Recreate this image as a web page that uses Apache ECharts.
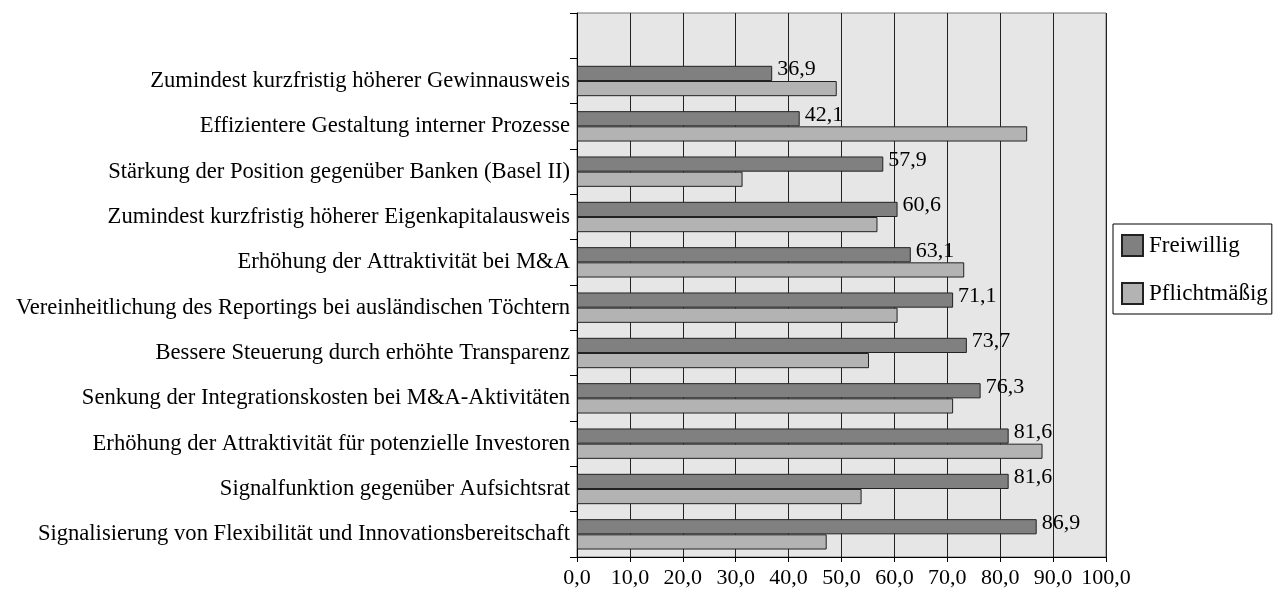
<!DOCTYPE html>
<html>
<head>
<meta charset="utf-8">
<script src="https://cdn.jsdelivr.net/npm/echarts@6/dist/echarts.min.js"></script>
<style>html,body{margin:0;padding:0;background:#fff}#c{width:1273px;height:592px}</style>
</head>
<body>
<div id="c"></div>
<script>
var categories = [
  '',
  'Zumindest kurzfristig höherer Gewinnausweis',
  'Effizientere Gestaltung interner Prozesse',
  'Stärkung der Position gegenüber Banken (Basel II)',
  'Zumindest kurzfristig höherer Eigenkapitalausweis',
  'Erhöhung der Attraktivität bei M&A',
  'Vereinheitlichung des Reportings bei ausländischen Töchtern',
  'Bessere Steuerung durch erhöhte Transparenz',
  'Senkung der Integrationskosten bei M&A-Aktivitäten',
  'Erhöhung der Attraktivität für potenzielle Investoren',
  'Signalfunktion gegenüber Aufsichtsrat',
  'Signalisierung von Flexibilität und Innovationsbereitschaft'
];
var freiwillig = [null, 36.9, 42.1, 57.9, 60.6, 63.1, 71.1, 73.7, 76.3, 81.6, 81.6, 86.9];
var pflichtmaessig = [null, 49.1, 85.1, 31.3, 56.8, 73.2, 60.6, 55.2, 71.1, 88.0, 53.8, 47.2];
var seriesNames = ['Freiwillig', 'Pflichtmäßig'];

var FONT = "'Liberation Serif', 'Times New Roman', serif";
function fmt(v) { return Number(v).toFixed(1).replace('.', ','); }

var chart = echarts.init(document.getElementById('c'));
chart.setOption({
  animation: false,
  textStyle: { fontFamily: FONT, color: '#000' },
  grid: {
    left: 577, right: 167, top: 13, bottom: 35,
    containLabel: false, outerBoundsMode: 'none',
    show: true, backgroundColor: '#e6e6e6', borderColor: '#777', borderWidth: 1
  },
  legend: {
    orient: 'vertical',
    left: 1113, top: 224,
    padding: [10, 4, 9, 8],
    itemWidth: 21, itemHeight: 21, itemGap: 25,
    backgroundColor: '#fff',
    borderColor: '#000', borderWidth: 1,
    icon: 'rect',
    data: seriesNames,
    textStyle: { fontFamily: FONT, fontSize: 23, color: '#000', padding: [0, 0, 0, 1] }
  },
  xAxis: {
    type: 'value', min: 0, max: 100, interval: 10,
    axisLine: { show: true, lineStyle: { color: '#000', width: 1 } },
    axisTick: { show: true, length: 5, lineStyle: { color: '#000' } },
    axisLabel: { formatter: fmt, fontFamily: FONT, fontSize: 22, color: '#000', margin: 10 },
    splitLine: { show: true, lineStyle: { color: '#222', width: 1 } }
  },
  yAxis: {
    type: 'category', inverse: true, data: categories,
    axisLine: { show: true, lineStyle: { color: '#000', width: 1 } },
    axisTick: { show: true, length: 7, lineStyle: { color: '#000' } },
    axisLabel: { fontFamily: FONT, fontSize: 22.6, color: '#000', margin: 7, interval: 0 },
    splitLine: { show: false }
  },
  series: [
    {
      name: seriesNames[0], type: 'bar', data: freiwillig,
      barGap: '0%', barCategoryGap: '33%',
      itemStyle: { color: '#808080', borderColor: '#222', borderWidth: 1 },
      label: {
        show: true, position: 'right', distance: 5, offset: [0, -4],
        formatter: function (p) { return fmt(p.value); },
        fontFamily: FONT, fontSize: 22, color: '#000'
      }
    },
    {
      name: seriesNames[1], type: 'bar', data: pflichtmaessig,
      barGap: '0%', barCategoryGap: '33%',
      itemStyle: { color: '#b3b3b3', borderColor: '#222', borderWidth: 1 }
    }
  ]
});
</script>
</body>
</html>
